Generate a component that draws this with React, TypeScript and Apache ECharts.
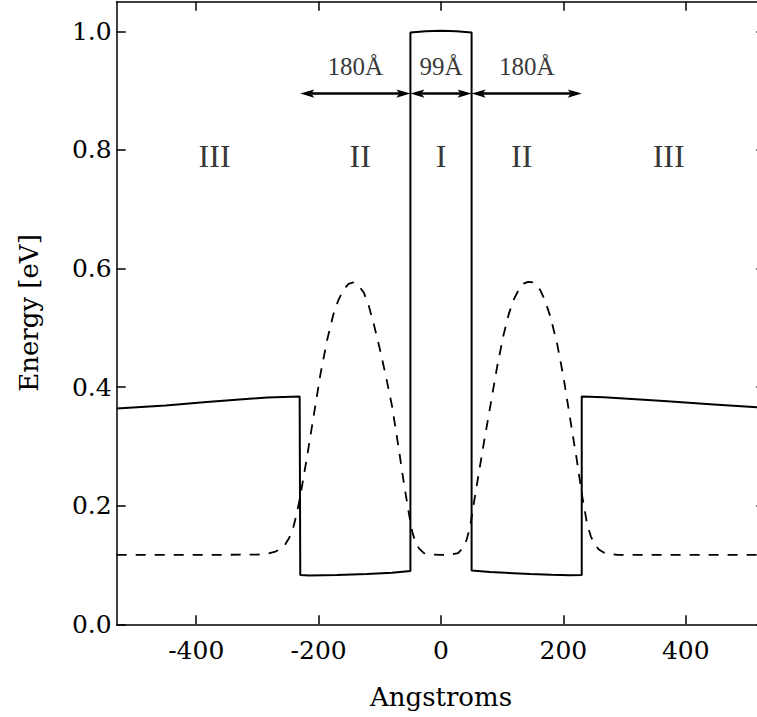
import { useEffect, useRef } from "react";
import * as echarts from "echarts";

// ---- data ----
const xTicks = [-400, -200, 0, 200, 400];
const yTicks = [0, 0.2, 0.4, 0.6, 0.8, 1.0];

// band edge potential (solid)
const potentialX = [-530, -450, -383, -284, -231, -230, -215, -170, -121, -80, -50, -50, -25, 0, 25, 50, 50, 80, 146, 180, 211, 230, 230, 266, 364, 446, 530];
const potentialY = [0.364, 0.369, 0.375, 0.3826, 0.3843, 0.0833, 0.0822, 0.083, 0.085, 0.087, 0.09, 0.998, 1.0, 1.001, 1.0, 0.998, 0.0906, 0.088, 0.085, 0.0835, 0.0828, 0.0833, 0.3843, 0.383, 0.3764, 0.3708, 0.365];

// probability density (dashed)
const densityX = [
  -530, -400, -300, -285, -272, -262, -255, -248, -241, -235, -230, -219, -208, -197, -186, -176, -168, -159, -151, -143,
  -135, -126, -118, -110, -99, -90, -80, -69, -61, -53, -47, -42, -36, -28, -15, 0,
  15, 28, 37, 42, 48, 53, 61, 70, 80.6, 91.5, 102, 111, 119, 128, 135, 142, 149, 156, 162, 170, 179, 190, 200, 211,
  222, 230.5, 239, 245, 250, 258, 266, 288, 400, 530,
];
const densityY = [
  0.117, 0.117, 0.1175, 0.119, 0.122, 0.127, 0.134, 0.146, 0.165, 0.19, 0.216, 0.282, 0.352, 0.422, 0.48, 0.522, 0.546, 0.565, 0.574, 0.5765,
  0.572, 0.559, 0.537, 0.507, 0.46, 0.418, 0.368, 0.296, 0.24, 0.19, 0.156, 0.139, 0.128, 0.12, 0.1175, 0.117,
  0.1175, 0.12, 0.13, 0.143, 0.167, 0.2, 0.25, 0.306, 0.368, 0.433, 0.487, 0.524, 0.548, 0.566, 0.5745, 0.5775, 0.577, 0.572, 0.564, 0.546, 0.518, 0.472, 0.418, 0.347,
  0.277, 0.218, 0.168, 0.148, 0.137, 0.126, 0.121, 0.117, 0.117, 0.117,
];

// region labels
const regionLabels = ["III", "II", "I", "II", "III"];
const regionX = [-370, -132, 0, 132, 372];
const regionY = 0.79;

// width annotations
const widthLabels = ["180Å", "99Å", "180Å"];
const widthStart = [-230, -50, 50];
const widthEnd = [-50, 50, 230];
const widthLabelY = 0.94;
const arrowY = 0.895;

const TICK_FONT = "'DejaVu Serif', serif";
const TEXT_FONT = "'Liberation Serif', 'Times New Roman', serif";

export default function App() {
  const ref = useRef<HTMLDivElement>(null);

  useEffect(() => {
    if (!ref.current) return;
    const chart = echarts.init(ref.current, null, { renderer: "svg" });

    const axisLine = { show: true, onZero: false, lineStyle: { color: "#000", width: 1.5 } };
    const axisTick = (vals: number[]) => ({
      show: true,
      inside: true,
      length: 9,
      customValues: vals,
      lineStyle: { color: "#000", width: 1.5 },
    });

    const option: any = {
      animation: false,
      backgroundColor: "#fff",
      grid: { left: 116.7, top: 1.7, width: 648.6, height: 622.6, containLabel: false, outerBoundsMode: "none" },
      xAxis: [
        {
          type: "value",
          position: "bottom",
          min: -530,
          max: 530,
          axisLine,
          axisTick: axisTick(xTicks),
          splitLine: { show: false },
          axisLabel: {
            customValues: xTicks,
            margin: 14,
            color: "#000",
            fontFamily: TICK_FONT,
            fontSize: 25,
            formatter: (v: number) => String(v),
          },
          name: "Angstroms",
          nameLocation: "middle",
          nameGap: 60,
          nameTextStyle: { color: "#000", fontFamily: TICK_FONT, fontSize: 26 },
        },
        {
          type: "value",
          position: "top",
          min: -530,
          max: 530,
          axisLine,
          axisTick: axisTick(xTicks),
          splitLine: { show: false },
          axisLabel: { show: false },
        },
      ],
      yAxis: [
        {
          type: "value",
          position: "left",
          min: 0,
          max: 1.05,
          axisLine,
          axisTick: axisTick(yTicks),
          splitLine: { show: false },
          axisLabel: {
            customValues: yTicks,
            margin: 5,
            color: "#000",
            fontFamily: TICK_FONT,
            fontSize: 25,
            formatter: (v: number) => v.toFixed(1),
          },
          name: "Energy [eV]",
          nameLocation: "middle",
          nameGap: 75,
          nameRotate: 90,
          nameTextStyle: { color: "#000", fontFamily: TICK_FONT, fontSize: 26 },
        },
        {
          type: "value",
          position: "right",
          min: 0,
          max: 1.05,
          axisLine: { show: false, onZero: false },
          axisTick: axisTick(yTicks),
          splitLine: { show: false },
          axisLabel: { show: false },
        },
      ],
      series: [
        {
          type: "line",
          name: "potential",
          data: potentialX.map((x, i) => [x, potentialY[i]]),
          showSymbol: false,
          symbol: "none",
          lineStyle: { color: "#000", width: 2 },
          z: 3,
        },
        {
          type: "line",
          name: "density",
          data: densityX.map((x, i) => [x, densityY[i]]),
          showSymbol: false,
          symbol: "none",
          smooth: false,
          lineStyle: { color: "#000", width: 1.8, type: [10, 9] },
          z: 2,
        },
        {
          type: "scatter",
          name: "regions",
          symbolSize: 1,
          itemStyle: { color: "rgba(0,0,0,0)" },
          data: regionX.map((x, i) => ({ value: [x, regionY], name: regionLabels[i] })),
          label: {
            show: true,
            position: "inside",
            formatter: "{b}",
            color: "#000",
            fontFamily: TEXT_FONT,
            fontSize: 32,
          },
          silent: true,
        },
        {
          type: "scatter",
          name: "widths",
          symbolSize: 1,
          itemStyle: { color: "rgba(0,0,0,0)" },
          data: widthLabels.map((t, i) => ({ value: [(widthStart[i] + widthEnd[i]) / 2, widthLabelY], name: t })),
          label: {
            show: true,
            position: "inside",
            formatter: "{b}",
            color: "#000",
            fontFamily: TEXT_FONT,
            fontSize: 25,
          },
          silent: true,
        },
        {
          type: "custom",
          name: "arrows",
          clip: false,
          silent: true,
          data: widthStart.map((s, i) => [s, widthEnd[i], arrowY]),
          encode: { x: [0, 1], y: 2 },
          renderItem: (_params: any, api: any) => {
            const p1 = api.coord([api.value(0), api.value(2)]);
            const p2 = api.coord([api.value(1), api.value(2)]);
            const L = 14, W = 4.2, N = 3;
            const y = p1[1];
            return {
              type: "group",
              children: [
                {
                  type: "line",
                  shape: { x1: p1[0] + L - N, y1: y, x2: p2[0] - L + N, y2: y },
                  style: { stroke: "#000", lineWidth: 2.5 },
                },
                {
                  type: "polygon",
                  shape: { points: [[p1[0], y], [p1[0] + L, y - W], [p1[0] + L - N, y], [p1[0] + L, y + W]] },
                  style: { fill: "#000" },
                },
                {
                  type: "polygon",
                  shape: { points: [[p2[0], y], [p2[0] - L, y - W], [p2[0] - L + N, y], [p2[0] - L, y + W]] },
                  style: { fill: "#000" },
                },
              ],
            };
          },
          z: 4,
        },
      ],
    };

    chart.setOption(option);
    return () => chart.dispose();
  }, []);

  return (
    <div style={{ position: "fixed", left: 0, top: 0, width: 757, height: 717, overflow: "hidden", background: "#fff" }}>
      <div ref={ref} style={{ width: 766, height: 717 }} />
    </div>
  );
}
